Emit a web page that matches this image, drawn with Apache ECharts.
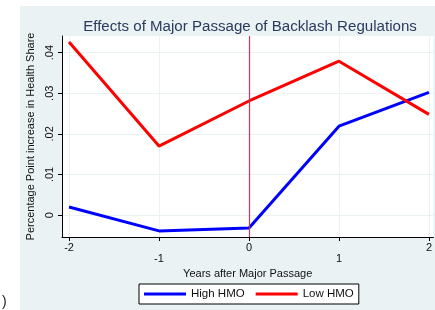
<!DOCTYPE html>
<html>
<head>
<meta charset="utf-8">
<script src="https://cdn.jsdelivr.net/npm/echarts@6/dist/echarts.min.js"></script>
<style>
  html, body { margin: 0; padding: 0; background: #fff; }
  #chart { width: 435px; height: 310px; }
</style>
</head>
<body>
<div id="chart"></div>
<script>
// years relative to the major passage
var years = [-2, -1, 0, 1, 2];
var highHMO = [0.0020, -0.0039, -0.0032, 0.0219, 0.0302];
var lowHMO = [0.0426, 0.0170, 0.0281, 0.0379, 0.0248];
var yTicks = [0, 0.01, 0.02, 0.03, 0.04];
var xTicks = [-2, -1, 0, 1, 2];

function pairs(vals) {
    var out = [];
    for (var i = 0; i < years.length; i++) {
        out.push([years[i], vals[i]]);
    }
    return out;
}

var passageColor = '#c8385a';

var chart = echarts.init(document.getElementById('chart'));
var option = {
    animation: false,
    backgroundColor: '#ffffff',
    textStyle: { fontFamily: 'Liberation Sans, Arial, sans-serif' },
    graphic: [
        {
            type: 'rect', z: -10, silent: true,
            shape: { x: 20, y: 6, width: 415, height: 304 },
            style: { fill: '#eaf2f3' }
        },
        {
            type: 'text', left: 2, top: 295,
            style: { text: ')', fontSize: 14, fill: '#222' }
        }
    ],
    title: {
        text: 'Effects of Major Passage of Backlash Regulations',
        left: 245, textAlign: 'center', top: 14,
        textStyle: { fontSize: 15.1, fontWeight: 'normal', color: '#2a3a5e' }
    },
    grid: {
        left: 62, right: 0, top: 36, bottom: 73,
        show: true, backgroundColor: '#ffffff', borderWidth: 0
    },
    legend: {
        bottom: 6, left: 139,
        data: ['High HMO', 'Low HMO'],
        icon: 'rect', itemWidth: 42, itemHeight: 3, itemGap: 11,
        backgroundColor: '#ffffff', borderColor: '#000', borderWidth: 1,
        padding: [4, 5, 4, 5],
        textStyle: { fontSize: 11.5, color: '#111' }
    },
    xAxis: {
        type: 'value', min: -2.078, max: 2.05,
        name: 'Years after Major Passage', nameLocation: 'middle', nameGap: 28,
        nameTextStyle: { fontSize: 11, color: '#111' },
        axisLine: { onZero: false, lineStyle: { color: '#000', width: 1 } },
        axisTick: { customValues: xTicks, length: 4, lineStyle: { color: '#000' } },
        axisLabel: {
            customValues: xTicks, fontSize: 11, color: '#111', margin: 5,
            formatter: function (v) {
                return Math.abs(v % 2) === 1 ? '\n' + v : String(v);
            }
        },
        splitLine: { show: true, lineStyle: { color: '#eaf2f3', width: 1 } }
    },
    yAxis: {
        type: 'value', min: -0.0054, max: 0.0441,
        name: 'Percentage Point increase in Health Share', nameLocation: 'middle', nameGap: 19,
        nameTextStyle: { fontSize: 11, color: '#111' },
        axisLine: { show: true, onZero: false, lineStyle: { color: '#000', width: 1 } },
        axisTick: { show: true, customValues: yTicks, length: 4, lineStyle: { color: '#000' } },
        axisLabel: {
            customValues: yTicks, fontSize: 11, color: '#111', rotate: 90, margin: 7,
            formatter: function (v) {
                return v === 0 ? '0' : String(Math.round(v * 100) / 100).replace(/^0/, '');
            }
        },
        splitLine: { show: true, lineStyle: { color: '#eaf2f3', width: 1 } }
    },
    series: [
        {
            name: 'High HMO', type: 'line', data: pairs(highHMO), z: 3,
            symbol: 'none', lineStyle: { color: '#0000ff', width: 3 }, itemStyle: { color: '#0000ff' }
        },
        {
            name: 'Low HMO', type: 'line', data: pairs(lowHMO), z: 3,
            symbol: 'none', lineStyle: { color: '#ff0000', width: 3 }, itemStyle: { color: '#ff0000' }
        },
        {
            // vertical line at the passage year
            name: 'passage', type: 'line', data: [], z: 2,
            markLine: {
                silent: true, symbol: ['none', 'none'], label: { show: false },
                lineStyle: { color: passageColor, width: 1.2, type: 'solid', opacity: 1 },
                data: [{ xAxis: 0, lineStyle: { color: passageColor, width: 1.2, type: 'solid' } }]
            }
        }
    ]
};
chart.setOption(option);
</script>
</body>
</html>
